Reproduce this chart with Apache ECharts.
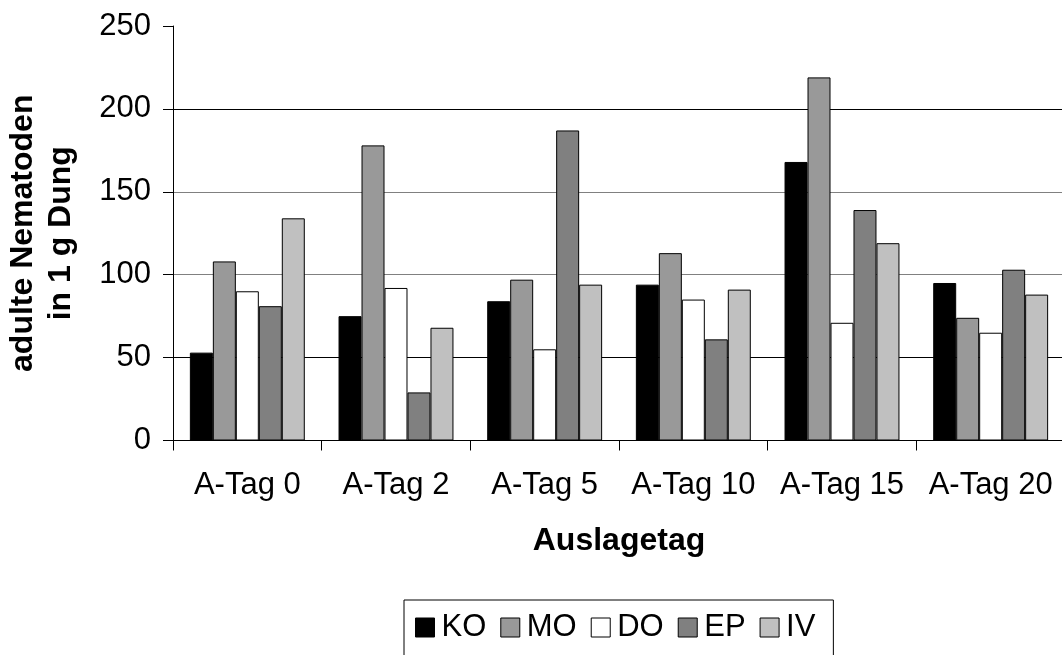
<!DOCTYPE html>
<html>
<head>
<meta charset="utf-8">
<script src="https://cdn.jsdelivr.net/npm/echarts@6/dist/echarts.min.js"></script>
<style>
  html, body { margin: 0; padding: 0; background: #fff; }
  #chart { width: 1062px; height: 655px; }
</style>
</head>
<body>
<div id="chart"></div>
<script>
const categories = ['A-Tag 0', 'A-Tag 2', 'A-Tag 5', 'A-Tag 10', 'A-Tag 15', 'A-Tag 20'];
const seriesNames = ['KO', 'MO', 'DO', 'EP', 'IV'];
const valuesKO = [53, 75, 84, 94, 168, 95];
const valuesMO = [108, 178, 97, 113, 219, 74];
const valuesDO = [90, 92, 55, 85, 71, 65];
const valuesEP = [81, 29, 187, 61, 139, 103];
const valuesIV = [134, 68, 94, 91, 119, 88];
const yTicks = [0, 50, 100, 150, 200, 250];

const allValues = [valuesKO, valuesMO, valuesDO, valuesEP, valuesIV];
const fills = ['#000000', '#999999', '#ffffff', '#808080', '#c0c0c0'];
const font = '"Liberation Sans", Arial, sans-serif';

const chart = echarts.init(document.getElementById('chart'));

chart.setOption({
  backgroundColor: '#ffffff',
  animation: false,
  textStyle: { fontFamily: font, color: '#000' },
  grid: {
    left: 173,
    right: -3,
    top: 26,
    bottom: 214.5,
    containLabel: false,
    outerBoundsMode: 'none'
  },
  legend: {
    data: seriesNames,
    left: 404,
    top: 600,
    orient: 'horizontal',
    borderColor: '#000',
    borderWidth: 1,
    padding: [12, 18, 30, 11],
    itemWidth: 19,
    itemHeight: 19,
    itemGap: 14,
    icon: 'rect',
    itemStyle: { borderColor: '#000', borderWidth: 1 },
    textStyle: { fontSize: 31, color: '#000', fontFamily: font, padding: [0, 0, 0, 2] }
  },
  xAxis: {
    type: 'category',
    data: categories,
    name: 'Auslagetag',
    nameLocation: 'middle',
    nameGap: 85,
    nameTextStyle: { fontSize: 32, fontWeight: 'bold', color: '#000', fontFamily: font },
    axisLine: { lineStyle: { color: '#000', width: 1 } },
    axisTick: { show: true, length: 10, alignWithLabel: false, lineStyle: { color: '#000' } },
    axisLabel: { fontSize: 31, color: '#000', margin: 29, fontFamily: font, interval: 0 },
    splitLine: { show: false }
  },
  yAxis: {
    type: 'value',
    min: 0,
    max: 250,
    interval: 50,
    name: 'adulte Nematoden\nin 1 g Dung',
    nameLocation: 'middle',
    nameGap: 93,
    nameRotate: 90,
    nameTextStyle: { fontSize: 32, fontWeight: 'bold', color: '#000', fontFamily: font, lineHeight: 38, align: 'center' },
    axisLine: { show: true, lineStyle: { color: '#000', width: 1 } },
    axisTick: { show: true, length: 10, lineStyle: { color: '#000' } },
    axisLabel: {
      fontSize: 31,
      color: '#000',
      margin: 22,
      fontFamily: font,
      formatter: v => (yTicks.includes(v) ? String(v) : '')
    },
    splitLine: {
      show: true,
      lineStyle: {
        color: ['#000', '#000', '#808080', '#808080', '#000', 'rgba(0,0,0,0)'],
        width: 1
      }
    }
  },
  series: seriesNames.map((name, i) => ({
    name: name,
    type: 'bar',
    data: allValues[i],
    barGap: '0%',
    barCategoryGap: '22.7%',
    itemStyle: {
      color: fills[i],
      borderColor: '#000',
      borderWidth: 1
    }
  }))
});
</script>
</body>
</html>
